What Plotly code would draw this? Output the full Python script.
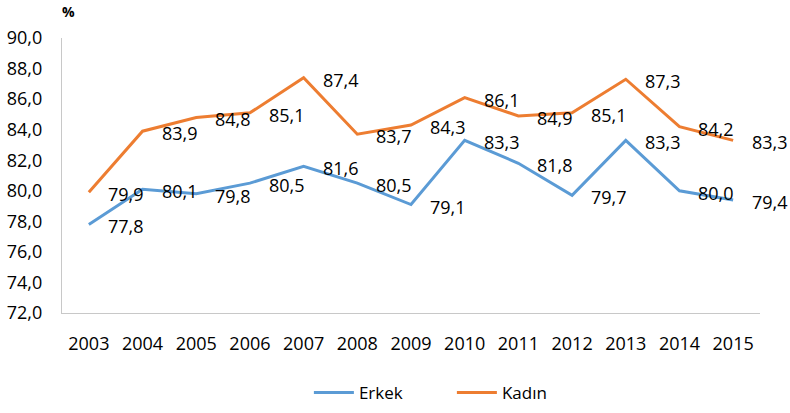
import plotly.graph_objects as go

years = ["2003", "2004", "2005", "2006", "2007", "2008", "2009",
         "2010", "2011", "2012", "2013", "2014", "2015"]
erkek = [77.8, 80.1, 79.8, 80.5, 81.6, 80.5, 79.1, 83.3, 81.8, 79.7, 83.3, 80.0, 79.4]
kadin = [79.9, 83.9, 84.8, 85.1, 87.4, 83.7, 84.3, 86.1, 84.9, 85.1, 87.3, 84.2, 83.3]
y_ticks = [72, 74, 76, 78, 80, 82, 84, 86, 88, 90]

FONT = "Open Sans"
BLUE = "#5B9BD5"
ORANGE = "#ED7D31"

def fmt(v):
    return f"{v:.1f}".replace(".", ",")

fig = go.Figure()
fig.add_trace(go.Scatter(x=years, y=erkek, mode="lines", name="Erkek",
                         line=dict(color=BLUE, width=3)))
fig.add_trace(go.Scatter(x=years, y=kadin, mode="lines", name="Kadın",
                         line=dict(color=ORANGE, width=3)))

annotations = []
for series in (erkek, kadin):
    for i, v in enumerate(series):
        annotations.append(dict(x=i, y=v, xref="x", yref="y", text=fmt(v),
                                showarrow=False, xanchor="center", yanchor="middle",
                                xshift=37, yshift=-2,
                                font=dict(family=FONT, size=18, color="#000000")))
annotations.append(dict(x=(68 - 62) / 698, y=1 + (38 - 11) / 275,
                        xref="paper", yref="paper",
                        text="<b>%</b>", showarrow=False, xanchor="center", yanchor="middle",
                        font=dict(family=FONT, size=14, color="#000000")))

fig.update_layout(
    width=790, height=413,
    margin=dict(l=62, r=30, t=38, b=100),
    paper_bgcolor="white", plot_bgcolor="white",
    separators=",.",
    font=dict(family=FONT, size=18, color="#000000"),
    showlegend=True,
    legend=dict(orientation="h", xref="container", yref="container",
                x=0.391, xanchor="left", y=(413 - 393) / 413, yanchor="middle",
                font=dict(family=FONT, size=17, color="#000000"),
                entrywidth=88, entrywidthmode="pixels", itemwidth=40),
    annotations=annotations,
    xaxis=dict(type="category", range=[-0.5, 12.5], showgrid=False, zeroline=False,
               showline=True, linecolor="#C8C8C8", linewidth=1.3, ticks="",
               automargin=False,
               ticklabelstandoff=14, tickfont=dict(family=FONT, size=18)),
    yaxis=dict(range=[72, 90], tickvals=y_ticks, tickformat=".1f", showgrid=False,
               zeroline=False, showline=True, linecolor="#C8C8C8", linewidth=1.3,
               ticks="", automargin=False,
               ticklabelstandoff=15, tickfont=dict(family=FONT, size=18)),
)

fig.write_html("out.html", config={"displayModeBar": False},
               post_script="document.body.style.margin='0';")
